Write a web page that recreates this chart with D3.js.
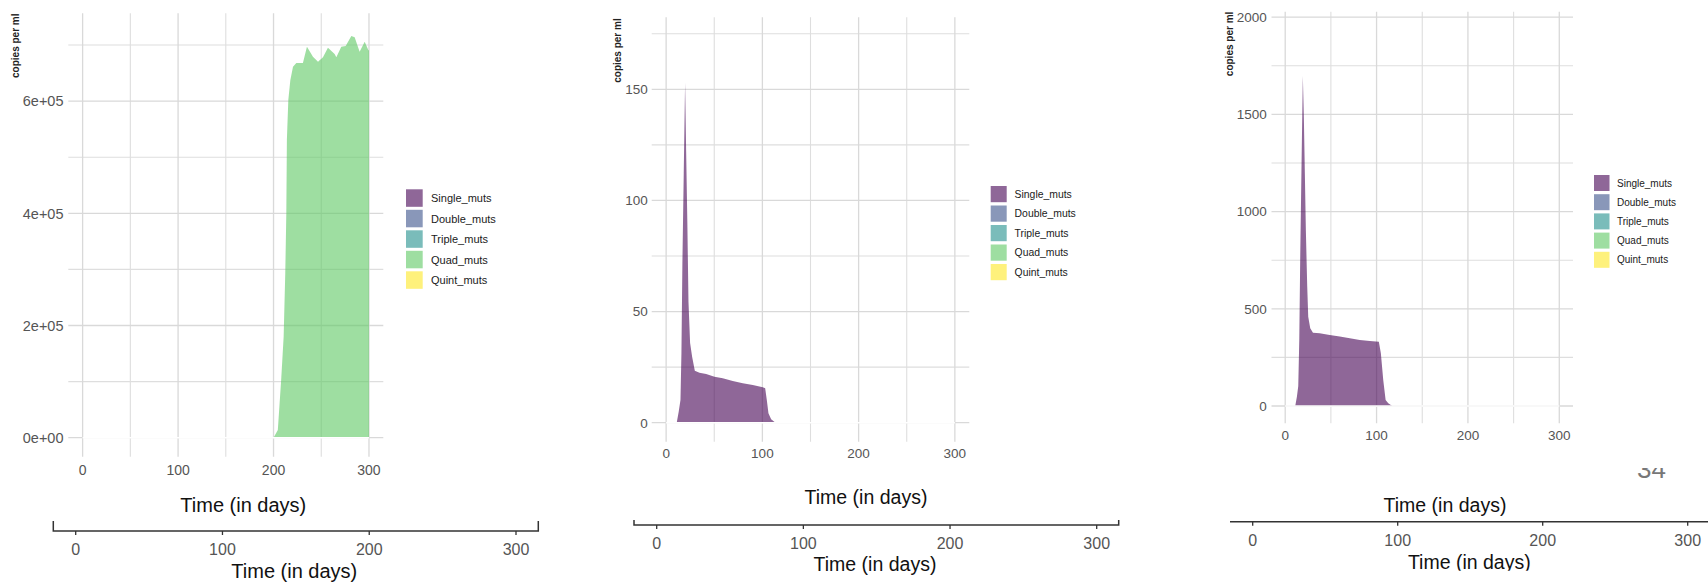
<!DOCTYPE html>
<html><head><meta charset="utf-8">
<script src="https://cdn.jsdelivr.net/npm/d3@7"></script>
<style>
html,body{margin:0;padding:0;background:#fff;}
svg{display:block;font-family:"Liberation Sans",Arial,sans-serif;}
</style></head>
<body>
<svg id="chart" width="1708" height="584"></svg>
<script>
// ---------- data ----------
const seriesNames = ["Single_muts","Double_muts","Triple_muts","Quad_muts","Quint_muts"];
const seriesColors = ["#440154","#3B528B","#21908C","#5DC863","#FDE725"];
const xTicks = [0,100,200,300];
const xMinorTicks = [50,150,250];
const xLabel = "Time (in days)";
const yLabel = "copies per ml";
const zeroSpan = [0,300];
const pageNumber = "34";

// panel 1 : Quad_muts
const p1Time = [200,204.5,208,210.6,212.3,213.4,214,215.5,217.6,220.4,223.9,230.8,235,241.3,246.6,251.8,257,264,265.8,271,275.6,281.5,285,290.2,295.5,299.3,300];
const p1Quad = [0,13700,103000,180000,293000,400000,531000,602000,637000,661000,668000,668000,697000,679000,670000,678000,695000,684000,678000,697000,698000,716000,714000,688000,706000,691000,690000];
const p1YTicks = [0,200000,400000,600000];
const p1YTickLabels = ["0e+00","2e+05","4e+05","6e+05"];
const p1YMinor = [100000,300000,500000,700000];
const p1YDomain = [-33900,756500];

// panel 2 : Single_muts
const p2Time = [11,13.1,14.9,15.9,16.9,18.3,19.7,20.8,22.1,23.2,24.9,27,29.8,34.6,41.6,50.2,58.8,69.2,79.6,90,100.4,102.9,104.6,106.3,109.1,113.6];
const p2Single = [0,5.0,10.2,31.3,71.8,112.3,152.9,122,88.3,54.5,35.8,29.7,23.4,22.5,21.9,20.7,20.0,18.8,17.7,17.0,15.9,15.5,10.2,4.2,1.5,0];
const p2YTicks = [0,50,100,150];
const p2YMinor = [25,75,125,175];
const p2YDomain = [-8.56,182.4];

// panel 3 : Single_muts
const p3Time = [11,12.8,14.3,15.4,16.5,17.9,19.3,20.4,21.5,22.6,24.1,25.2,27.4,30.4,37.7,48.7,59.7,70.7,81.6,92.6,102.5,104.7,107.3,109.9,112.8,117.2];
const p3Single = [0,48,103,340,785,1248,1697,1488,1197,905,614,459,400,377,374,365,357,348,340,334,331,271,134,31,14,0];
const p3YTicks = [0,500,1000,1500,2000];
const p3YMinor = [250,750,1250,1750];
const p3YDomain = [-89,2028];

// ---------- layout ----------
const svg = d3.select("#chart");
const panels = [
  {time:p1Time, vals:p1Quad, series:3, yTicks:p1YTicks, yLabels:p1YTickLabels, yMinor:p1YMinor, yDomain:p1YDomain,
   xr:[68.3,383.3], yr:[456.7,13.3], yLabFont:14.5, yLabRight:63.5, xLabFont:14, xLabY:475,
   ylabX:19, ylabTop:13.5, ylabFont:10,
   leg:{x:406, y:189.3, w:16.7, h:17.5, gap:20.5, lx:431, font:11},
   t1:{x:243.3, y:512, font:20},
   br:{y:531, x0:53.3, x1:538.3, r:[75.7,516], cap:10, labY:554.5, font:16},
   t2:{x:294.3, y:578, font:20}, clip:null},
  {time:p2Time, vals:p2Single, series:0, yTicks:p2YTicks, yLabels:p2YTicks.map(String), yMinor:p2YMinor, yDomain:p2YDomain,
   xr:[651.7,969.3], yr:[441.7,17.3], yLabFont:13.5, yLabRight:647.7, xLabFont:13.5, xLabY:457.5,
   ylabX:620.5, ylabTop:18.3, ylabFont:10,
   leg:{x:990.7, y:186, w:16, h:16.2, gap:19.5, lx:1014.6, font:10.4},
   t1:{x:866, y:503.5, font:19.5},
   br:{y:525, x0:634, x1:1118.7, r:[656.7,1096.7], cap:5, labY:549, font:16},
   t2:{x:875, y:570.5, font:19.5}, clip:null},
  {time:p3Time, vals:p3Single, series:0, yTicks:p3YTicks, yLabels:p3YTicks.map(String), yMinor:p3YMinor, yDomain:p3YDomain,
   xr:[1271.5,1573], yr:[423.3,11.7], yLabFont:13.5, yLabRight:1266.7, xLabFont:13.5, xLabY:440,
   ylabX:1233, ylabTop:11.7, ylabFont:10,
   leg:{x:1594, y:175, w:15.5, h:16, gap:19.2, lx:1617, font:10},
   t1:{x:1445, y:511.5, font:19.5},
   br:{y:521.7, x0:1230, x1:1712, r:[1252.7,1687.7], cap:0, labY:545.6, font:16},
   t2:{x:1469.3, y:568.5, font:19.5}, clip:570.7}
];

const gridCol = "#d9d9d9", tickCol = "#555";

panels.forEach((p,i) => {
  const g = svg.append("g");
  if (p.clip !== null) {
    svg.append("clipPath").attr("id","clip"+i).append("rect")
      .attr("x",1150).attr("y",0).attr("width",600).attr("height",p.clip);
    g.attr("clip-path","url(#clip"+i+")");
  }
  const x = d3.scaleLinear().domain([-15,315]).range(p.xr);
  const y = d3.scaleLinear().domain(p.yDomain).range(p.yr);

  // grid
  const grid = g.append("g");
  grid.selectAll(".hmin").data(p.yMinor).join("line")
    .attr("x1",p.xr[0]).attr("x2",p.xr[1]).attr("y1",d=>y(d)).attr("y2",d=>y(d))
    .attr("stroke","#dedede").attr("stroke-width",1.1);
  grid.selectAll(".vmin").data(xMinorTicks).join("line")
    .attr("y1",p.yr[0]).attr("y2",p.yr[1]).attr("x1",d=>x(d)).attr("x2",d=>x(d))
    .attr("stroke","#dedede").attr("stroke-width",1.1);
  grid.selectAll(".hmaj").data(p.yTicks).join("line")
    .attr("x1",p.xr[0]).attr("x2",p.xr[1]).attr("y1",d=>y(d)).attr("y2",d=>y(d))
    .attr("stroke",gridCol).attr("stroke-width",1.3);
  grid.selectAll(".vmaj").data(xTicks).join("line")
    .attr("y1",p.yr[0]).attr("y2",p.yr[1]).attr("x1",d=>x(d)).attr("x2",d=>x(d))
    .attr("stroke",gridCol).attr("stroke-width",1.3);

  // area
  const pts = p.time.map((t,k)=>({t, v:p.vals[k]}));
  const area = d3.area().x(d=>x(d.t)).y0(y(0)).y1(d=>y(d.v));
  g.append("path").datum(pts).attr("d",area)
    .attr("fill",seriesColors[p.series]).attr("fill-opacity",0.6);
  // zero-valued series outline along baseline
  g.append("line").attr("x1",x(zeroSpan[0])).attr("x2",x(zeroSpan[1]))
    .attr("y1",y(0)).attr("y2",y(0)).attr("stroke","#fff").attr("stroke-width",1.6);

  // y tick labels
  g.selectAll(".ylab").data(p.yTicks).join("text")
    .attr("x",p.yLabRight).attr("y",d=>y(d)+p.yLabFont*0.36)
    .attr("text-anchor","end").attr("font-size",p.yLabFont).attr("fill",tickCol)
    .text((d,k)=>p.yLabels[k]);
  // x tick labels
  g.selectAll(".xlab").data(xTicks).join("text")
    .attr("x",d=>x(d)).attr("y",p.xLabY).attr("text-anchor","middle")
    .attr("font-size",p.xLabFont).attr("fill",tickCol).text(d=>d);

  // y axis title
  g.append("text").attr("transform",`translate(${p.ylabX},${p.ylabTop}) rotate(-90)`)
    .attr("text-anchor","end").attr("font-size",p.ylabFont).attr("font-weight","bold")
    .attr("fill","#222").text(yLabel);

  // legend
  const lg = g.append("g");
  seriesNames.forEach((s,k)=>{
    lg.append("rect").attr("x",p.leg.x).attr("y",p.leg.y+k*p.leg.gap)
      .attr("width",p.leg.w).attr("height",p.leg.h)
      .attr("fill",seriesColors[k]).attr("fill-opacity",0.6);
    lg.append("text").attr("x",p.leg.lx).attr("y",p.leg.y+k*p.leg.gap+p.leg.h/2+p.leg.font*0.36)
      .attr("font-size",p.leg.font).attr("fill","#1a1a1a").text(s);
  });

  // first x title
  g.append("text").attr("x",p.t1.x).attr("y",p.t1.y).attr("text-anchor","middle")
    .attr("font-size",p.t1.font).attr("fill","#111").text(xLabel);

  // bracket axis
  const bx = d3.scaleLinear().domain([0,300]).range(p.br.r);
  const bg = g.append("g");
  bg.append("path")
    .attr("d",`M${p.br.x0},${p.br.y-p.br.cap}V${p.br.y}H${p.br.x1}V${p.br.y-p.br.cap}`)
    .attr("fill","none").attr("stroke","#333").attr("stroke-width",1.5);
  bg.selectAll(".bt").data(xTicks).join("line")
    .attr("x1",d=>bx(d)).attr("x2",d=>bx(d)).attr("y1",p.br.y).attr("y2",p.br.y+4)
    .attr("stroke","#333").attr("stroke-width",1.3);
  bg.selectAll(".bl").data(xTicks).join("text")
    .attr("x",d=>bx(d)).attr("y",p.br.labY).attr("text-anchor","middle")
    .attr("font-size",p.br.font).attr("fill",tickCol).text(d=>d);
  g.append("text").attr("x",p.t2.x).attr("y",p.t2.y).attr("text-anchor","middle")
    .attr("font-size",p.t2.font).attr("fill","#111").text(xLabel);
});

// partially hidden page number (only its lower part is visible)
svg.append("clipPath").attr("id","pgclip").append("rect")
  .attr("x",1620).attr("y",468).attr("width",60).attr("height",14);
svg.append("text").attr("clip-path","url(#pgclip)")
  .attr("x",1651.5).attr("y",478).attr("text-anchor","middle")
  .attr("font-size",26).attr("fill","#777").text(pageNumber);
</script>
</body></html>
